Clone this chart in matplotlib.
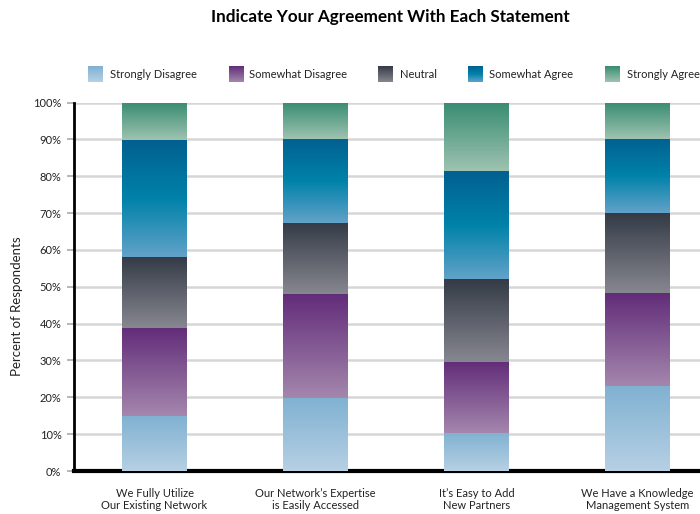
import numpy as np
import matplotlib.pyplot as plt
from matplotlib.colors import LinearSegmentedColormap

plt.rcParams['font.family'] = ['Lato', 'DejaVu Sans']

statements = ['We Fully Utilize\nOur Existing Network',
              'Our Network\u2019s Expertise\nis Easily Accessed',
              'It\u2019s Easy to Add\nNew Partners',
              'We Have a Knowledge\nManagement System']
responses = ['Strongly Disagree', 'Somewhat Disagree', 'Neutral',
             'Somewhat Agree', 'Strongly Agree']

strongly_disagree = [15.0, 19.9, 10.4, 23.2]
somewhat_disagree = [23.9, 28.2, 19.3, 25.2]
neutral = [19.3, 19.3, 22.5, 21.7]
somewhat_agree = [31.5, 22.8, 29.3, 20.1]
strongly_agree = [10.3, 9.8, 18.5, 9.8]

# gradient stops, bottom -> top
gradients = [
    ['#b6d0e4', '#80b1d1'],
    ['#a487ad', '#622c79'],
    ['#878790', '#343b46'],
    ['#62a2c8', '#0082a9', '#026090'],
    ['#9ec3b1', '#388c72'],
]
cmaps = [LinearSegmentedColormap.from_list(n, c) for n, c in zip(responses, gradients)]
ramp = np.linspace(0, 1, 256).reshape(-1, 1)

fig = plt.figure(figsize=(7, 5.14), dpi=100)
ax = fig.add_axes([74 / 700, 43 / 514, 644 / 700, 368.5 / 514])

x = np.arange(len(statements))
width = 0.4
bottom = np.zeros(len(statements))
series = [strongly_disagree, somewhat_disagree, neutral, somewhat_agree, strongly_agree]
for vals, cmap in zip(series, cmaps):
    bars = ax.bar(x, vals, width, bottom=bottom, color='none', edgecolor='none', zorder=3)
    for b in bars:
        x0, y0 = b.get_x(), b.get_y()
        im = ax.imshow(ramp, cmap=cmap, origin='lower', aspect='auto', zorder=3,
                       extent=[x0, x0 + b.get_width(), y0, y0 + b.get_height()])
        im.set_clip_path(b)
    bottom += np.array(vals)

ax.set_xlim(-0.5, 3.5)
ax.set_ylim(0, 100)
ax.set_yticks(np.arange(0, 101, 10))
ax.set_yticklabels([f'{v}%' for v in range(0, 101, 10)], fontsize=8, color='#222222')
ax.set_xticks(x)
ax.set_xticklabels(statements, fontsize=8, color='#222222', linespacing=1.2)
ax.tick_params(axis='y', length=5, color='#aaaaaa', width=1.2, pad=4)
ax.tick_params(axis='x', length=0, pad=12)
ax.grid(axis='y', color='#d6d6d6', linewidth=1.8, zorder=0)
ax.set_axisbelow(True)
for s in ['top', 'right']:
    ax.spines[s].set_visible(False)
ax.spines['left'].set_linewidth(2)
ax.spines['bottom'].set_linewidth(3)
ax.spines['left'].set_color('black')
ax.spines['bottom'].set_color('black')

fig.text(17 / 700, 1 - 306 / 514, 'Percent of Respondents', rotation=90,
         ha='center', va='center', fontsize=9.5, color='#222222')
fig.text(390 / 700, 1 - 17 / 514, 'Indicate Your Agreement With Each Statement',
         ha='center', va='center', fontsize=12.3, fontweight='bold', color='black')

# legend with gradient swatches
sw_x = [88, 229, 378, 468, 605]
txt_x = [110, 249, 400, 489, 627]
for sx, tx, name, cmap in zip(sw_x, txt_x, responses, cmaps):
    sa = fig.add_axes([sx / 700, 1 - 82 / 514, 15 / 700, 16 / 514])
    sa.imshow(ramp, cmap=cmap, origin='lower', aspect='auto')
    sa.set_axis_off()
    fig.text(tx / 700, 1 - 74.5 / 514, name, ha='left', va='center', fontsize=8, color='#222222')

fig.savefig('out.png', dpi=100)
